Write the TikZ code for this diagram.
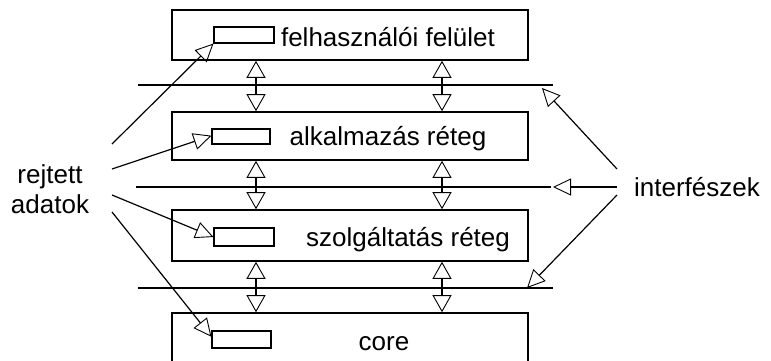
\documentclass[tikz,border=0pt]{standalone}
\usepackage{fontspec}
\setmainfont{Liberation Sans}
\usetikzlibrary{arrows.meta,calc}
\begin{document}
\begin{tikzpicture}[x=1pt,y=-1pt,
  every node/.style={font=\fontsize{26}{32}\selectfont},
  layer/.style={draw, line width=1.6pt, minimum width=356pt, inner sep=0pt},
  hidden/.style={draw, line width=1.1pt, inner sep=0pt},
  label/.style={anchor=base, inner sep=0pt},
  iface/.style={line width=1.2pt},
  opentip/.style={-{Triangle[open,length=18pt,width=17pt,line width=0.9pt]}, line width=1.2pt},
  dbl/.style={{Triangle[open,length=17pt,width=19pt,line width=0.9pt]}-{Triangle[open,length=17pt,width=19pt,line width=0.9pt]}, line width=1.2pt}
]
\useasboundingbox (0,0) rectangle (771,360);
\begin{scope}
\clip (0,0) rectangle (771,360);

% layer boxes
\node[layer, minimum height=50pt] (L1) at (350,35) {};
\node[layer, minimum height=48pt] (L2) at (350,136) {};
\node[layer, minimum height=51pt] (L3) at (350,235.5) {};
\node[layer, minimum height=90pt] (L4) at (350,358) {};

% hidden data placeholders
\node[hidden, minimum width=60pt, minimum height=16pt] (S1) at (244,35) {};
\node[hidden, minimum width=58pt, minimum height=15pt] (S2) at (241,136.5) {};
\node[hidden, minimum width=60pt, minimum height=18pt] (S3) at (244,237) {};
\node[hidden, minimum width=59pt, minimum height=17pt] (S4) at (241.5,339.5) {};

% layer names
\node[label] (T1) at (388,46) {felhasználói felület};
\node[label] (T2) at (388,145) {alkalmazás réteg};
\node[label] (T3) at (408,246) {szolgáltatás réteg};
\node[label] (T4) at (384,350) {core};
\end{scope}

% interface lines
\coordinate (I1w) at (138,85);  \coordinate (I1e) at (553,85);
\coordinate (I2w) at (136,187); \coordinate (I2e) at (551,187);
\coordinate (I3w) at (138,288); \coordinate (I3e) at (553,288);
\draw[iface] (I1w) -- (I1e);
\draw[iface] (I2w) -- (I2e);
\draw[iface] (I3w) -- (I3e);

% calls between neighbouring layers
\coordinate (XL) at (256,0);
\coordinate (XR) at (442,0);
\foreach \a/\b in {L1/L2, L2/L3, L3/L4}{
  \draw[dbl] (XL |- \a.south) -- (XL |- \b.north);
  \draw[dbl] (XR |- \a.south) -- (XR |- \b.north);
}

% side labels
\node[align=center, inner sep=0pt] (RA) at (50,189) {rejtett\\[-2pt]adatok};
\node[inner sep=0pt] (IF) at (697,187) {interfészek};

% pointers to hidden data
\coordinate (R1) at (112,144);
\coordinate (R2) at (112,169);
\coordinate (R3) at (112,195);
\coordinate (R4) at (112,212);
\draw[opentip] (R1) -- (S1.south west);
\draw[opentip] (R2) -- ($(S2.north west)!0.45!(S2.south west)$);
\draw[opentip] (R3) -- (S3.west);
\draw[opentip] (R4) -- ($(S4.north west)!0.35!(S4.south west)$);

% pointers to interfaces
\coordinate (F1) at (617,169);
\coordinate (F2) at (617,187);
\coordinate (F3) at (617,195);
\draw[opentip] (F1) -- ($(I1e)+(-11,3)$);
\draw[opentip] (F2) -- ($(I2e)+(2,0)$);
\draw[opentip] (F3) -- ($(I3e)+(-26,0)$);
\end{tikzpicture}
\end{document}
